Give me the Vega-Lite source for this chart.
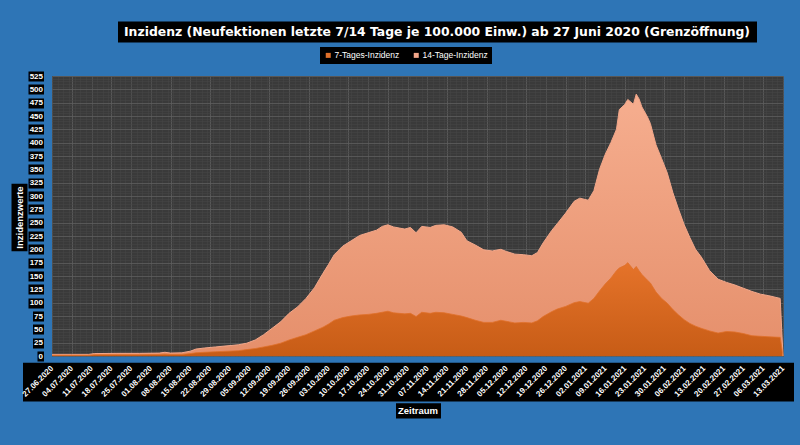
{
 "$schema": "https://vega.github.io/schema/vega-lite/v6.json",
 "width": 731,
 "height": 280,
 "autosize": {"type": "none"},
 "padding": {"left": 52, "top": 76, "right": 17, "bottom": 89},
 "background": "#2E75B6",
 "config": {
  "view": {"fill": "#3A3A3A", "stroke": null},
  "font": "Liberation Sans",
  "axis": {"labelFont": "Liberation Sans", "titleFont": "Liberation Sans"}
 },
 "data": {"values": [
  {"date":"2020-06-27T00:00:00","i14":3,"i7":1.5},
  {"date":"2020-07-04T00:00:00","i14":3,"i7":1.5},
  {"date":"2020-07-10T00:00:00","i14":3,"i7":1.5},
  {"date":"2020-07-12T00:00:00","i14":4.5,"i7":2.5},
  {"date":"2020-07-20T00:00:00","i14":5,"i7":2.5},
  {"date":"2020-07-28T00:00:00","i14":5,"i7":2.5},
  {"date":"2020-08-04T00:00:00","i14":5.5,"i7":3},
  {"date":"2020-08-06T00:00:00","i14":7,"i7":3.5},
  {"date":"2020-08-08T00:00:00","i14":5.5,"i7":3},
  {"date":"2020-08-12T00:00:00","i14":6,"i7":3},
  {"date":"2020-08-15T00:00:00","i14":9,"i7":4.5},
  {"date":"2020-08-17T00:00:00","i14":13,"i7":6},
  {"date":"2020-08-20T00:00:00","i14":15,"i7":7},
  {"date":"2020-08-24T00:00:00","i14":17,"i7":8},
  {"date":"2020-08-28T00:00:00","i14":19,"i7":9},
  {"date":"2020-09-01T00:00:00","i14":21,"i7":10},
  {"date":"2020-09-04T00:00:00","i14":24,"i7":12},
  {"date":"2020-09-07T00:00:00","i14":30,"i7":14},
  {"date":"2020-09-10T00:00:00","i14":40,"i7":17},
  {"date":"2020-09-13T00:00:00","i14":52,"i7":20},
  {"date":"2020-09-16T00:00:00","i14":64,"i7":24},
  {"date":"2020-09-19T00:00:00","i14":80,"i7":30},
  {"date":"2020-09-22T00:00:00","i14":92,"i7":35},
  {"date":"2020-09-25T00:00:00","i14":108,"i7":40},
  {"date":"2020-09-28T00:00:00","i14":128,"i7":47},
  {"date":"2020-10-01T00:00:00","i14":155,"i7":54},
  {"date":"2020-10-03T00:00:00","i14":172,"i7":60},
  {"date":"2020-10-05T00:00:00","i14":190,"i7":67},
  {"date":"2020-10-08T00:00:00","i14":206,"i7":72},
  {"date":"2020-10-11T00:00:00","i14":216,"i7":75},
  {"date":"2020-10-14T00:00:00","i14":226,"i7":77},
  {"date":"2020-10-17T00:00:00","i14":231,"i7":78},
  {"date":"2020-10-20T00:00:00","i14":236,"i7":80},
  {"date":"2020-10-22T00:00:00","i14":243,"i7":82},
  {"date":"2020-10-24T00:00:00","i14":246,"i7":84},
  {"date":"2020-10-26T00:00:00","i14":242,"i7":81},
  {"date":"2020-10-28T00:00:00","i14":240,"i7":80},
  {"date":"2020-10-30T00:00:00","i14":238,"i7":79},
  {"date":"2020-11-01T00:00:00","i14":241,"i7":80},
  {"date":"2020-11-03T00:00:00","i14":231,"i7":74},
  {"date":"2020-11-05T00:00:00","i14":243,"i7":82},
  {"date":"2020-11-08T00:00:00","i14":241,"i7":80},
  {"date":"2020-11-10T00:00:00","i14":245,"i7":82},
  {"date":"2020-11-13T00:00:00","i14":246,"i7":81},
  {"date":"2020-11-16T00:00:00","i14":242,"i7":78},
  {"date":"2020-11-19T00:00:00","i14":232,"i7":75},
  {"date":"2020-11-21T00:00:00","i14":216,"i7":72},
  {"date":"2020-11-24T00:00:00","i14":208,"i7":67},
  {"date":"2020-11-27T00:00:00","i14":199,"i7":63},
  {"date":"2020-11-30T00:00:00","i14":197,"i7":63},
  {"date":"2020-12-03T00:00:00","i14":200,"i7":67},
  {"date":"2020-12-05T00:00:00","i14":196,"i7":65},
  {"date":"2020-12-08T00:00:00","i14":191,"i7":62},
  {"date":"2020-12-11T00:00:00","i14":190,"i7":63},
  {"date":"2020-12-14T00:00:00","i14":188,"i7":62},
  {"date":"2020-12-16T00:00:00","i14":194,"i7":66},
  {"date":"2020-12-18T00:00:00","i14":212,"i7":74},
  {"date":"2020-12-21T00:00:00","i14":235,"i7":83},
  {"date":"2020-12-23T00:00:00","i14":248,"i7":88},
  {"date":"2020-12-26T00:00:00","i14":268,"i7":93},
  {"date":"2020-12-29T00:00:00","i14":290,"i7":100},
  {"date":"2020-12-31T00:00:00","i14":296,"i7":102},
  {"date":"2021-01-03T00:00:00","i14":292,"i7":99},
  {"date":"2021-01-05T00:00:00","i14":310,"i7":108},
  {"date":"2021-01-07T00:00:00","i14":350,"i7":122},
  {"date":"2021-01-09T00:00:00","i14":378,"i7":135},
  {"date":"2021-01-11T00:00:00","i14":400,"i7":146},
  {"date":"2021-01-13T00:00:00","i14":425,"i7":160},
  {"date":"2021-01-14T00:00:00","i14":462,"i7":165},
  {"date":"2021-01-16T00:00:00","i14":472,"i7":170},
  {"date":"2021-01-17T00:00:00","i14":481,"i7":175},
  {"date":"2021-01-19T00:00:00","i14":472,"i7":162},
  {"date":"2021-01-20T00:00:00","i14":491,"i7":168},
  {"date":"2021-01-21T00:00:00","i14":482,"i7":160},
  {"date":"2021-01-22T00:00:00","i14":467,"i7":153},
  {"date":"2021-01-24T00:00:00","i14":448,"i7":142},
  {"date":"2021-01-25T00:00:00","i14":436,"i7":137},
  {"date":"2021-01-27T00:00:00","i14":396,"i7":120},
  {"date":"2021-01-29T00:00:00","i14":370,"i7":108},
  {"date":"2021-01-31T00:00:00","i14":343,"i7":99},
  {"date":"2021-02-02T00:00:00","i14":306,"i7":87},
  {"date":"2021-02-04T00:00:00","i14":275,"i7":77},
  {"date":"2021-02-06T00:00:00","i14":246,"i7":68},
  {"date":"2021-02-08T00:00:00","i14":222,"i7":61},
  {"date":"2021-02-10T00:00:00","i14":200,"i7":56},
  {"date":"2021-02-12T00:00:00","i14":186,"i7":52},
  {"date":"2021-02-15T00:00:00","i14":160,"i7":47},
  {"date":"2021-02-18T00:00:00","i14":144,"i7":43},
  {"date":"2021-02-21T00:00:00","i14":138,"i7":46},
  {"date":"2021-02-24T00:00:00","i14":133,"i7":45},
  {"date":"2021-02-27T00:00:00","i14":127,"i7":42},
  {"date":"2021-03-02T00:00:00","i14":121,"i7":38},
  {"date":"2021-03-05T00:00:00","i14":116,"i7":37},
  {"date":"2021-03-08T00:00:00","i14":113,"i7":36},
  {"date":"2021-03-12T00:00:00","i14":108,"i7":35},
  {"date":"2021-03-13T00:00:00","i14":0,"i7":0}
 ]},
 "layer": [
  {
   "mark": {"type": "area",
    "fill": {"gradient": "linear", "x1": 0, "y1": 0, "x2": 0, "y2": 1, "stops": [{"offset": 0, "color": "#F6AE8F"}, {"offset": 1, "color": "#E58F6B"}]}},
   "encoding": {
    "x": {"field": "date", "type": "temporal",
     "scale": {"domain": [{"year":2020,"month":6,"date":27},{"year":2021,"month":3,"date":13}], "nice": false},
     "axis": {"orient": "bottom", "offset": 6.3,
      "values": [
       {"year":2020,"month":6,"date":27},{"year":2020,"month":7,"date":4},{"year":2020,"month":7,"date":11},{"year":2020,"month":7,"date":18},{"year":2020,"month":7,"date":25},
       {"year":2020,"month":8,"date":1},{"year":2020,"month":8,"date":8},{"year":2020,"month":8,"date":15},{"year":2020,"month":8,"date":22},{"year":2020,"month":8,"date":29},
       {"year":2020,"month":9,"date":5},{"year":2020,"month":9,"date":12},{"year":2020,"month":9,"date":19},{"year":2020,"month":9,"date":26},
       {"year":2020,"month":10,"date":3},{"year":2020,"month":10,"date":10},{"year":2020,"month":10,"date":17},{"year":2020,"month":10,"date":24},{"year":2020,"month":10,"date":31},
       {"year":2020,"month":11,"date":7},{"year":2020,"month":11,"date":14},{"year":2020,"month":11,"date":21},{"year":2020,"month":11,"date":28},
       {"year":2020,"month":12,"date":5},{"year":2020,"month":12,"date":12},{"year":2020,"month":12,"date":19},{"year":2020,"month":12,"date":26},
       {"year":2021,"month":1,"date":2},{"year":2021,"month":1,"date":9},{"year":2021,"month":1,"date":16},{"year":2021,"month":1,"date":23},{"year":2021,"month":1,"date":30},
       {"year":2021,"month":2,"date":6},{"year":2021,"month":2,"date":13},{"year":2021,"month":2,"date":20},{"year":2021,"month":2,"date":27},
       {"year":2021,"month":3,"date":6},{"year":2021,"month":3,"date":13}
      ],
      "format": "%d.%m.%Y", "labelAngle": -45, "labelAlign": "right", "labelBaseline": "middle",
      "labelColor": "white", "labelFontSize": 8, "labelFontWeight": "bold", "labelPadding": -34,
      "labelOverlap": false, "labelFlush": false, "labelBound": false,
      "ticks": true, "tickColor": "black", "tickSize": 38.7,
      "tickWidth": {"condition": {"test": "month(datum.value) == 9 && date(datum.value) == 31", "value": 771}, "value": 0},
      "domain": false,
      "grid": true, "gridColor": "#5E5E5E", "gridWidth": 0.8, "title": null}
    },
    "y": {"field": "i14", "type": "quantitative",
     "scale": {"domain": [0, 525], "nice": false},
     "axis": {"orient": "left", "offset": 8.5,
      "values": [0,25,50,75,100,125,150,175,200,225,250,275,300,325,350,375,400,425,450,475,500,525],
      "tickColor": "black", "tickWidth": 10,
      "tickSize": {"condition": [{"test": "datum.value < 10", "value": 6.5}, {"test": "datum.value < 100", "value": 11}], "value": 15.5},
      "labelPadding": {"condition": [{"test": "datum.value < 10", "value": -5.5}, {"test": "datum.value < 100", "value": -10}], "value": -14.5},
      "labelColor": "white", "labelFontSize": 8, "labelFontWeight": "bold",
      "domain": false, "grid": true, "gridColor": "#5E5E5E", "gridWidth": 0.8, "title": null}
    }
   }
  },
  {
   "mark": {"type": "area",
    "fill": {"gradient": "linear", "x1": 0, "y1": 0, "x2": 0, "y2": 1, "stops": [{"offset": 0, "color": "#E5732A"}, {"offset": 1, "color": "#C75C16"}]}},
   "encoding": {
    "x": {"field": "date", "type": "temporal",
     "axis": {"orient": "bottom", "offset": 46.7, "values": [{"year":2020,"month":11,"date":3,"hours":12}],
      "labels": false, "domain": false, "grid": false, "ticks": true, "tickColor": "black", "tickSize": 15.3, "tickWidth": 45,
      "title": "Zeitraum", "titleColor": "white", "titleFontSize": 9.5, "titleFontWeight": "bold",
      "titleX": 365.5, "titleY": 7.6, "titleAlign": "center", "titleBaseline": "middle", "titleAngle": 0}
    },
    "y": {"field": "i7", "type": "quantitative",
     "axis": {"orient": "left", "offset": 25, "values": [260.6],
      "labels": false, "domain": false, "grid": false, "tickColor": "black", "tickSize": 16, "tickWidth": 67.5,
      "title": "Inzidenzwerte", "titleColor": "white", "titleFontSize": 9.5, "titleFontWeight": "bold",
      "titleAngle": 270, "titleX": -8, "titleY": 141, "titleAlign": "center", "titleBaseline": "middle"}
    }
   }
  },
  {
   "mark": {"type": "line", "strokeWidth": 1},
   "encoding": {
    "x": {"field": "date", "type": "temporal",
     "axis": {"orient": "top", "offset": 34, "values": [{"year":2020,"month":11,"date":10,"hours":6}],
      "labels": false, "domain": false, "grid": false, "tickColor": "black", "tickSize": 21, "tickWidth": 639,
      "title": "Inzidenz (Neufektionen letzte 7/14 Tage je 100.000 Einw.) ab 27 Juni 2020 (Grenzöffnung)",
      "titleColor": "white", "titleFont": "DejaVu Sans", "titleFontSize": 12.4, "titleFontWeight": "bold",
      "titleX": 384.5, "titleY": -10.5, "titleAlign": "center", "titleBaseline": "middle", "titleAngle": 0}
    },
    "y": {"field": "i14", "type": "quantitative",
     "axis": {"orient": "right",
      "values": [5,10,15,20,30,35,40,45,55,60,65,70,80,85,90,95,105,110,115,120,130,135,140,145,155,160,165,170,180,185,190,195,205,210,215,220,230,235,240,245,255,260,265,270,280,285,290,295,305,310,315,320,330,335,340,345,355,360,365,370,380,385,390,395,405,410,415,420,430,435,440,445,455,460,465,470,480,485,490,495,505,510,515,520],
      "labels": false, "ticks": false, "domain": false, "grid": true, "gridColor": "#474747", "gridWidth": 0.5, "title": null}
    },
    "color": {"datum": "14-Tage-Inzidenz", "type": "nominal",
     "scale": {"domain": ["7-Tages-Inzidenz", "14-Tage-Inzidenz"], "range": ["#E0702A", "#F3A78A"]},
     "legend": {"orient": "none", "legendX": 268, "legendY": -29, "direction": "horizontal",
      "fillColor": "black", "padding": 4, "title": null, "labelColor": "white", "labelFontSize": 8.5,
      "labelFont": "Liberation Sans", "symbolType": "square", "symbolSize": 25, "symbolStrokeWidth": 0,
      "labelOffset": 2, "columnPadding": 12,
      "encode": {"symbols": {"update": {"fill": {"scale": "color", "field": "value"}, "stroke": {"value": "transparent"}, "strokeWidth": {"value": 0}, "opacity": {"value": 1}}}}}}
   }
  },
  {
   "mark": {"type": "line", "strokeWidth": 0.8},
   "encoding": {
    "x": {"field": "date", "type": "temporal",
     "axis": {"orient": "top", "tickCount": {"interval": "day", "step": 2},
      "labels": false, "ticks": false, "domain": false, "grid": true, "gridColor": "#474747", "gridWidth": 0.5, "title": null}
    },
    "y": {"field": "i7", "type": "quantitative", "axis": null},
    "color": {"datum": "7-Tages-Inzidenz", "type": "nominal"}
   }
  }
 ],
 "resolve": {"axis": {"x": "independent", "y": "independent"}}
}
